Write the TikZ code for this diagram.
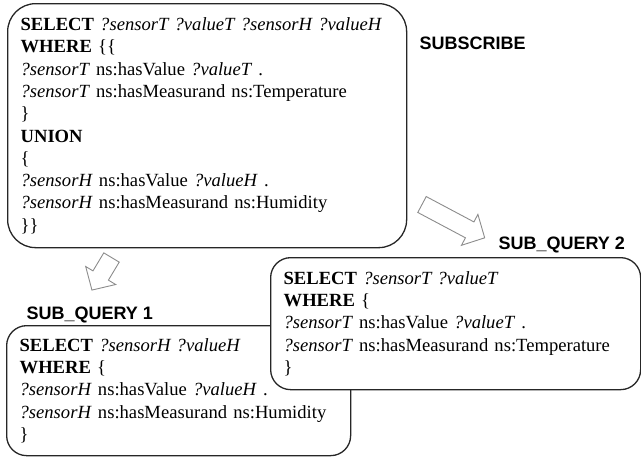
\documentclass[tikz,border=0pt]{standalone}
\usepackage{fontspec}
\setmainfont{Liberation Serif}
\newfontfamily\labelfont{Liberation Sans}
\begin{document}
\begin{tikzpicture}[x=1pt,y=-1pt,
  qbox/.style={draw=black!85, line width=1.3pt, rounded corners=20pt, fill=white,
    align=left, anchor=north west, inner xsep=13pt, inner ysep=11pt,
    font=\fontsize{18.6}{22.3}\selectfont},
  qlabel/.style={anchor=west, font=\labelfont\bfseries\fontsize{18}{20}\selectfont},
  hollow/.style={draw=black!45, line width=0.9pt, fill=white, line join=miter}]
  \useasboundingbox (0,0) rectangle (641,456);
  % subscription query
  \node[qbox, rounded corners=28pt, text width=373pt, minimum height=244pt] (subscribe) at (7,3) {%
    \textbf{SELECT} \textit{?sensorT ?valueT ?sensorH ?valueH}\\
    \textbf{WHERE} \{\{\\
    \textit{?sensorT} ns:hasValue \textit{?valueT} .\\
    \textit{?sensorT} ns:hasMeasurand ns:Temperature\\
    \}\\
    \textbf{UNION}\\
    \{\\
    \textit{?sensorH} ns:hasValue \textit{?valueH} .\\
    \textit{?sensorH} ns:hasMeasurand ns:Humidity\\
    \}\}};
  \node[qlabel] (subscribelbl) at (416,43) {SUBSCRIBE};
  % split arrows
  \foreach \x/\y/\a/\l in {422/204.5/-28/71, 111.5/257.5/-121/38}
    \draw[hollow, shift={(\x,\y)}, rotate=\a]
      (0,-9) -- ({\l-17},-9) -- ({\l-17},-17.5) -- (\l,0)
      -- ({\l-17},17.5) -- ({\l-17},9) -- (0,9) -- cycle;
  % sub queries
  \node[qlabel] (sub1lbl) at (23,315) {SUB\_QUERY 1};
  \node[qbox, text width=318pt, minimum height=130pt] (sub1) at (6,325) {%
    \textbf{SELECT} \textit{?sensorH ?valueH}\\
    \textbf{WHERE} \{\\
    \textit{?sensorH} ns:hasValue \textit{?valueH} .\\
    \textit{?sensorH} ns:hasMeasurand ns:Humidity\\
    \}};
  \node[qlabel] (sub2lbl) at (495,245) {SUB\_QUERY 2};
  \node[qbox, text width=344pt, minimum height=132pt] (sub2) at (270,257) {%
    \textbf{SELECT} \textit{?sensorT ?valueT}\\
    \textbf{WHERE} \{\\
    \textit{?sensorT} ns:hasValue \textit{?valueT} .\\
    \textit{?sensorT} ns:hasMeasurand ns:Temperature\\
    \}};
\end{tikzpicture}
\end{document}
